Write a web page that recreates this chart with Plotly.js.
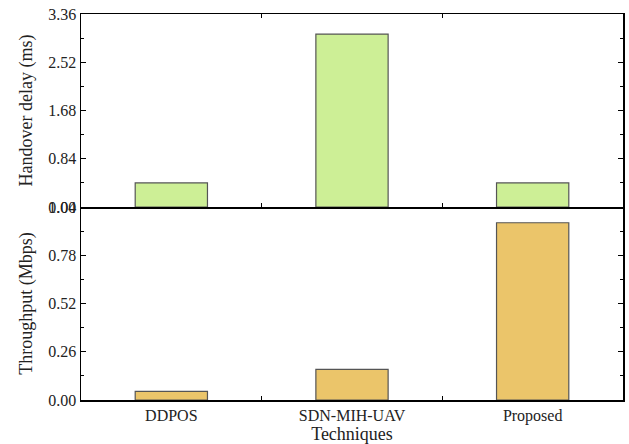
<!DOCTYPE html>
<html>
<head>
<meta charset="utf-8">
<script src="https://cdn.plot.ly/plotly-3.0.1.min.js"></script>
<style>html,body{margin:0;padding:0;background:#fff;}</style>
</head>
<body>
<div id="chart" style="width:629px;height:444px;"></div>
<script>
const techniques = ["DDPOS", "SDN-MIH-UAV", "Proposed"];
const handoverDelay = [0.42, 3.01, 0.42];
const throughput = [0.047, 0.165, 0.955];

const fontFam = "Liberation Serif, Times New Roman, serif";
const axisCommon = {
  showline: true, linecolor: "#000", linewidth: 1.5, mirror: "ticks",
  ticks: "inside", ticklen: 5, tickcolor: "#000", tickwidth: 1,
  showgrid: false, zeroline: false,
  tickfont: {family: fontFam, size: 16, color: "#222"}
};

const traces = [
  {type: "bar", x: techniques, y: handoverDelay, xaxis: "x2", yaxis: "y2",
   marker: {color: "#cdef96", line: {color: "#555", width: 1.2}}},
  {type: "bar", x: techniques, y: throughput, xaxis: "x", yaxis: "y",
   marker: {color: "#ebc56a", line: {color: "#555", width: 1.2}}}
];

const layout = {
  width: 629, height: 444,
  margin: {l: 81, r: 6, t: 14, b: 44},
  paper_bgcolor: "#fff", plot_bgcolor: "#fff",
  showlegend: false, bargap: 0.6,
  font: {family: fontFam, color: "#222"},
  xaxis: Object.assign({}, axisCommon, {
    anchor: "y", domain: [0, 1], tickson: "boundaries", ticklen: 4, mirror: false,
    title: {text: "Techniques", font: {family: fontFam, size: 18, color: "#222"}, standoff: 2}
  }),
  xaxis2: Object.assign({}, axisCommon, {
    anchor: "y2", matches: "x", showticklabels: false, tickson: "boundaries", ticklen: 4
  }),
  yaxis: Object.assign({}, axisCommon, {
    domain: [0, 0.5], anchor: "x", range: [0, 1.04], tickmode: "linear", tick0: 0, dtick: 0.26,
    tickformat: ".2f",
    minor: {ticks: "inside", ticklen: 3, dtick: 0.13, tick0: 0, tickcolor: "#000"},
    title: {text: "Throughput (Mbps)", font: {family: fontFam, size: 18, color: "#222"}, standoff: 11}
  }),
  yaxis2: Object.assign({}, axisCommon, {
    domain: [0.5, 1], anchor: "x2", range: [0, 3.36], tickmode: "linear", tick0: 0, dtick: 0.84,
    tickformat: ".2f",
    minor: {ticks: "inside", ticklen: 3, dtick: 0.42, tick0: 0, tickcolor: "#000"},
    title: {text: "Handover delay (ms)", font: {family: fontFam, size: 18, color: "#222"}, standoff: 11}
  })
};

Plotly.newPlot("chart", traces, layout, {displayModeBar: false, staticPlot: true});
</script>
</body>
</html>
